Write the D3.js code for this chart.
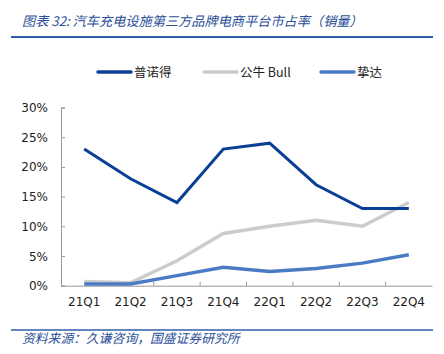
<!DOCTYPE html>
<html><head><meta charset="utf-8">
<script src="https://cdn.jsdelivr.net/npm/d3@7"></script>
<style>body{margin:0;background:#fff}svg{display:block}</style>
</head><body>
<svg id="c" width="444" height="354"></svg>
<script>
const categories = ["21Q1","21Q2","21Q3","21Q4","22Q1","22Q2","22Q3","22Q4"];
const puNuoDe = [23, 18, 14, 23, 24, 17, 13, 13];
const gongNiu = [0.7, 0.5, 4.2, 8.8, 10, 11, 10, 14];
const zhiDa = [0.3, 0.3, 1.7, 3.1, 2.4, 2.9, 3.8, 5.2];
const yTicks = [0, 5, 10, 15, 20, 25, 30];
const seriesNames = ["普诺得", "公牛 Bull", "挚达"];

(function () {
const svg = d3.select("#c");
const font = "'Noto Sans CJK SC', 'Liberation Sans', sans-serif";
const pLeft = 61, pRight = 432, pTop = 107.5, pBottom = 285.7;

// header
svg.append("text").attr("x", 22).attr("y", 26).attr("font-family", font).attr("font-size", 13.2)
  .attr("font-style", "italic").attr("fill", "#2b4f98").text("图表 32:  汽车充电设施第三方品牌电商平台市占率（销量）");
svg.append("line").attr("x1", 11).attr("x2", 433).attr("y1", 37).attr("y2", 37)
  .attr("stroke", "#2f5ea8").attr("stroke-width", 2);
svg.append("line").attr("x1", 11).attr("x2", 433).attr("y1", 330).attr("y2", 330)
  .attr("stroke", "#2f5ea8").attr("stroke-width", 1.5);
svg.append("text").attr("x", 22).attr("y", 343).attr("font-family", font).attr("font-size", 12.8)
  .attr("font-style", "italic").attr("fill", "#2b4f98").text("资料来源：久谦咨询，国盛证券研究所");

const x = d3.scaleBand().domain(categories).range([pLeft, pRight]);
const y = d3.scaleLinear().domain([0, 30]).range([pBottom, pTop]);

// y axis
const ya = svg.append("g").attr("transform", `translate(${pLeft},0)`)
  .call(d3.axisRight(y).tickValues(yTicks).tickSize(4).tickFormat(() => ""));
ya.select(".domain").attr("stroke", "#999");
ya.selectAll(".tick line").attr("stroke", "#999");
svg.append("g").selectAll("text").data(yTicks).join("text")
  .attr("x", 48).attr("y", d => y(d) + 4.5).attr("text-anchor", "end")
  .attr("font-family", "'DejaVu Sans', sans-serif").attr("font-size", 12).attr("fill", "#222")
  .text(d => d + "%");

// x axis
const xa = svg.append("g").attr("transform", `translate(0,${pBottom})`)
  .call(d3.axisBottom(x).tickSize(0).tickFormat(""));
xa.select(".domain").attr("stroke", "#999");
xa.selectAll(".tick").remove();
svg.append("g").selectAll("line").data(categories.slice(1)).join("line")
  .attr("x1", d => x(d)).attr("x2", d => x(d)).attr("y1", pBottom).attr("y2", pBottom - 4)
  .attr("stroke", "#999");
svg.append("g").selectAll("text").data(categories).join("text")
  .attr("x", d => x(d) + x.bandwidth() / 2).attr("y", 306).attr("text-anchor", "middle")
  .attr("font-family", "'DejaVu Sans', sans-serif").attr("font-size", 12).attr("fill", "#222")
  .text(d => d);

const series = [
  {name: seriesNames[0], values: puNuoDe, color: "#0a3f96", w: 3},
  {name: seriesNames[1], values: gongNiu, color: "#cccccc", w: 3.5},
  {name: seriesNames[2], values: zhiDa, color: "#4a7cc6", w: 3.5}
];
const line = d3.line().x((d, i) => x(categories[i]) + x.bandwidth() / 2).y(d => y(d));
[1, 2, 0].forEach(k => {
  const s = series[k];
  svg.append("path").attr("d", line(s.values)).attr("fill", "none")
    .attr("stroke", s.color).attr("stroke-width", s.w).attr("stroke-linejoin", "miter");
});

// legend
const legX = [98, 204, 321];
series.forEach((s, i) => {
  svg.append("line").attr("x1", legX[i]).attr("x2", legX[i] + 33).attr("y1", 72).attr("y2", 72)
    .attr("stroke", s.color).attr("stroke-width", 3.5).attr("stroke-linecap", "round");
  svg.append("text").attr("x", legX[i] + 36).attr("y", 76.5).attr("font-family", font)
    .attr("font-size", 12.5).attr("fill", "#222").text(s.name);
});
})();
</script>
</body></html>
